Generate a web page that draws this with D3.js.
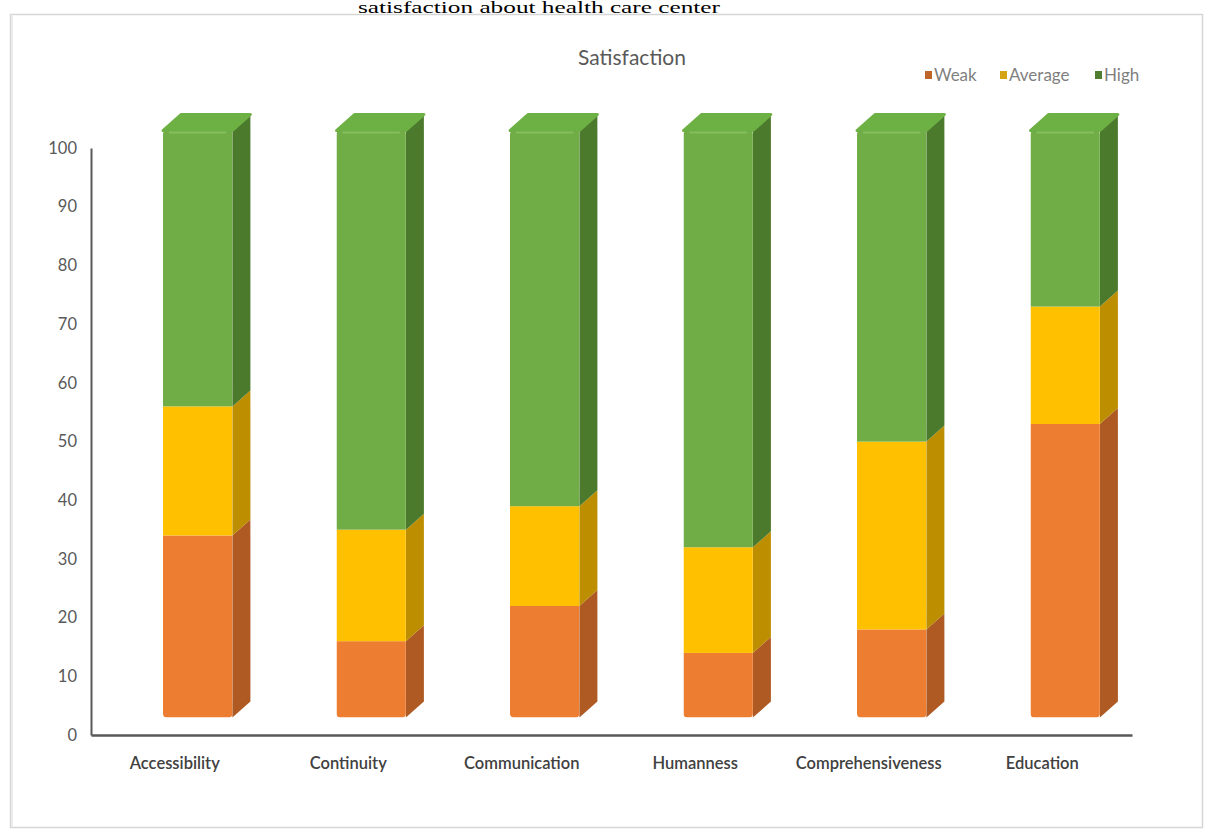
<!DOCTYPE html>
<html>
<head>
<meta charset="utf-8">
<script src="https://cdn.jsdelivr.net/npm/d3@7"></script>
<style>
  html, body { margin: 0; padding: 0; background: #ffffff; }
  svg { display: block; }
</style>
</head>
<body>
<svg id="chart" width="1207" height="830"></svg>
<script>
// ---- data ----
const categories = ["Accessibility", "Continuity", "Communication", "Humanness", "Comprehensiveness", "Education"];
const seriesNames = ["Weak", "Average", "High"];
const weak    = [31, 13, 19, 11, 15, 50];
const average = [22, 19, 17, 18, 32, 20];
const high    = [47, 68, 64, 71, 53, 30];
const yTicks  = [0, 10, 20, 30, 40, 50, 60, 70, 80, 90, 100];
const pageTitle = "satisfaction about health care center";
const chartTitle = "Satisfaction";

// ---- styles ----
const frontColors = ["#ED7D31", "#FFC000", "#70AD47"];
const sideColors  = ["#AE5A22", "#BC8E00", "#4C7A2D"];
const topColors   = ["#F08A44", "#FFC926", "#6DB044"];
const legendColors = ["#C0652A", "#D4A414", "#4F7E31"];

const svg = d3.select("#chart");

// page title (serif, just above the chart frame)
svg.append("text")
  .attr("x", 539).attr("y", 12.5)
  .attr("text-anchor", "middle")
  .attr("font-family", "'Liberation Serif', 'Times New Roman', serif")
  .attr("font-size", 16)
  .attr("textLength", 362).attr("lengthAdjust", "spacingAndGlyphs")
  .attr("fill", "#000")
  .text(pageTitle);

// chart frame
svg.append("rect")
  .attr("x", 10.5).attr("y", 14.5).attr("width", 1192).attr("height", 813)
  .attr("fill", "#ffffff").attr("stroke", "#d6d6d6").attr("stroke-width", 1.5);
svg.append("line").attr("x1", 12).attr("x2", 12).attr("y1", 16).attr("y2", 827)
  .attr("stroke", "#ececec").attr("stroke-width", 2);

// scales
const x = d3.scaleBand().domain(categories).range([91, 1132]).padding(0);
const y = d3.scaleLinear().domain([0, 100]).range([735, 148]);
const depthX = 18, depthY = -16, frontShift = -17.5;
const yb = v => y(v) + frontShift;          // front face of the 3D bar
const color = d3.scaleOrdinal().domain(seriesNames).range(frontColors);

// stack
const rows = categories.map((c, i) => ({ cat: c, Weak: weak[i], Average: average[i], High: high[i] }));
const stacked = d3.stack().keys(seriesNames)(rows);

// chart title
svg.append("text")
  .attr("x", 632).attr("y", 65)
  .attr("text-anchor", "middle")
  .attr("font-family", "Lato, 'Open Sans', sans-serif")
  .attr("font-size", 21)
  .attr("fill", "#595959")
  .text(chartTitle);

// legend
const legendX = [925, 1000, 1095];
const legend = svg.append("g");
seriesNames.forEach((s, i) => {
  legend.append("rect").attr("x", legendX[i]).attr("y", 71).attr("width", 7).attr("height", 8)
    .attr("fill", legendColors[i]);
  legend.append("text").attr("x", legendX[i] + 9).attr("y", 81)
    .attr("font-family", "Lato, 'Open Sans', sans-serif").attr("font-size", 17)
    .attr("fill", "#7f7f7f").text(s);
});

// axes
const yAxis = svg.append("g").attr("transform", "translate(91,0)")
  .call(d3.axisLeft(y).tickValues(yTicks).tickSize(0).tickSizeOuter(0).tickPadding(14));
yAxis.select(".domain").attr("stroke", "#595959").attr("stroke-width", 2);
yAxis.selectAll("text").attr("font-family", "Lato, 'Open Sans', sans-serif")
  .attr("font-size", 16.5).attr("fill", "#595959");

const xAxis = svg.append("g").attr("transform", "translate(0,735)")
  .call(d3.axisBottom(x).tickSize(0).tickSizeOuter(0).tickPadding(22));
xAxis.select(".domain").attr("stroke", "#595959").attr("stroke-width", 2.5);
xAxis.selectAll("text").attr("font-family", "Lato, 'Open Sans', sans-serif")
  .attr("font-size", 16.5).attr("fill", "#404040").attr("font-weight", 600)
  .attr("dx", -3);

// 3D bars
const bw = x.bandwidth();
const fx0 = c => x(c) + bw * 0.415;
const fw = bw * 0.40;
const defs = svg.append("defs");
const bars = svg.append("g");

categories.forEach((c, ci) => {
  const x0 = fx0(c), x1 = x0 + fw;
  const top = stacked[stacked.length - 1][ci][1];
  // clip for rounded front face
  defs.append("clipPath").attr("id", "clip" + ci)
    .append("rect").attr("x", x0).attr("y", yb(top)).attr("width", fw)
    .attr("height", yb(0) - yb(top)).attr("rx", 4).attr("ry", 4);
  const g = bars.append("g");
  // side faces
  stacked.forEach((layer, si) => {
    const d = layer[ci];
    const ya = yb(d[0]), yt = yb(d[1]);
    g.append("path")
      .attr("d", `M${x1},${ya} L${x1 + depthX},${ya + depthY} L${x1 + depthX},${yt + depthY} L${x1},${yt} Z`)
      .attr("fill", sideColors[si]);
  });
  // top face
  const yt = yb(top);
  g.append("path")
    .attr("d", `M${x0},${yt} L${x0 + depthX},${yt + depthY} L${x1 + depthX},${yt + depthY} L${x1},${yt} Z`)
    .attr("fill", topColors[2]).attr("stroke", topColors[2]).attr("stroke-linejoin", "round").attr("stroke-width", 3);
  // front faces
  const fg = g.append("g").attr("clip-path", `url(#clip${ci})`);
  stacked.forEach((layer, si) => {
    const d = layer[ci];
    fg.append("rect")
      .attr("x", x0).attr("y", yb(d[1])).attr("width", fw)
      .attr("height", yb(d[0]) - yb(d[1]))
      .attr("fill", color(seriesNames[si]));
  });
  // soft highlight near top edge
  g.append("line").attr("x1", x0 + 6).attr("x2", x1 - 6).attr("y1", yt + 2).attr("y2", yt + 2)
    .attr("stroke", "#8cc866").attr("stroke-width", 2).attr("opacity", 0.7);
});
</script>
</body>
</html>
